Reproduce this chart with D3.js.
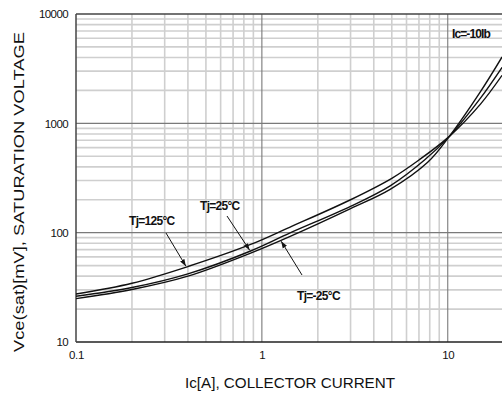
<!DOCTYPE html>
<html><head><meta charset="utf-8">
<script src="https://cdn.jsdelivr.net/npm/d3@7"></script>
<style>
html,body{margin:0;padding:0;background:#fff;}
svg{display:block;font-family:"Liberation Sans",Arial,sans-serif;}
</style></head>
<body>
<svg id="chart" width="502" height="399"></svg>
<script>
// ---- data ----
const xTicks = [0.1, 1, 10];
const xTickLabels = ["0.1", "1", "10"];
const yTicks = [10, 100, 1000, 10000];
const yTickLabels = ["10", "100", "1000", "10000"];

const ic125 = [0.1, 0.2, 0.4, 0.87, 1.41, 3, 5, 7, 10.2, 15, 19.6];
const v125  = [27.5, 34.5, 49, 78, 112, 200, 314, 462, 760, 1500, 2750];
const ic25  = [0.1, 0.2, 0.4, 0.87, 1.41, 3, 4.9, 7.5, 10.2, 15, 19.6];
const v25   = [26.2, 31.5, 42, 68, 99, 174, 268, 462, 760, 1700, 3250];
const icm25 = [0.1, 0.2, 0.4, 0.87, 1.41, 3, 4.9, 7.8, 10.2, 15, 19.6];
const vm25  = [24.9, 30.2, 40, 65, 92, 166, 249, 440, 760, 1950, 4050];

const seriesNames = ["Tj=125°C", "Tj=25°C", "Tj=-25°C"];
const conditionLabel = "Ic=-10Ib";
const xTitle = "Ic[A], COLLECTOR CURRENT";
const yTitle = "Vce(sat)[mV], SATURATION VOLTAGE";

// ---- layout ----
const L = 76, R = 503.7, T = 14, B = 342;
const svg = d3.select("#chart");
const x = d3.scaleLog().domain([0.1, 20]).range([L, R]);
const y = d3.scaleLog().domain([10, 10000]).range([B, T]);

// grid
const xGrid = [], yGrid = [];
[0.1, 1, 10].forEach(d => { for (let k = 1; k <= 9; k++) { const v = +(k * d).toPrecision(3); if (v <= 20) xGrid.push({v, major: k === 1}); } });
[10, 100, 1000].forEach(d => { for (let k = 1; k <= 9; k++) yGrid.push({v: k * d, major: k === 1}); });

const g = svg.append("g");
g.selectAll(".gx").data(xGrid.filter(d => !d.major)).enter().append("line")
  .attr("x1", d => x(d.v)).attr("x2", d => x(d.v)).attr("y1", T).attr("y2", B)
  .attr("stroke", "#cfcfcf").attr("stroke-width", 1.6);
g.selectAll(".gy").data(yGrid.filter(d => !d.major)).enter().append("line")
  .attr("x1", L).attr("x2", 502).attr("y1", d => y(d.v)).attr("y2", d => y(d.v))
  .attr("stroke", "#cfcfcf").attr("stroke-width", 1.6);
g.selectAll(".gxm").data(xGrid.filter(d => d.major && d.v > 0.1)).enter().append("line")
  .attr("x1", d => x(d.v)).attr("x2", d => x(d.v)).attr("y1", T).attr("y2", B)
  .attr("stroke", "#7a7a7a").attr("stroke-width", 1.1);
g.selectAll(".gym").data(yGrid.filter(d => d.major && d.v > 10)).enter().append("line")
  .attr("x1", L).attr("x2", 502).attr("y1", d => y(d.v)).attr("y2", d => y(d.v))
  .attr("stroke", "#7a7a7a").attr("stroke-width", 1.1);

// frame
svg.append("line").attr("x1", L).attr("x2", 502).attr("y1", T).attr("y2", T).attr("stroke", "#444").attr("stroke-width", 1.5);
svg.append("line").attr("x1", L).attr("x2", 502).attr("y1", B).attr("y2", B).attr("stroke", "#222").attr("stroke-width", 1.5);
svg.append("line").attr("x1", L).attr("x2", L).attr("y1", T).attr("y2", B).attr("stroke", "#444").attr("stroke-width", 1.5);

// axes (labels only)
const xAxis = d3.axisBottom(x).tickValues(xTicks).tickSize(0).tickFormat((d, i) => xTickLabels[i]);
const xa = svg.append("g").attr("transform", `translate(0,${B + 6})`).call(xAxis);
xa.select(".domain").remove();
xa.selectAll("text").attr("font-size", 11.5).attr("fill", "#111").attr("letter-spacing", "-0.4px")
  .attr("font-family", "Liberation Sans, Arial, sans-serif");

const yAxis = d3.axisLeft(y).tickValues(yTicks).tickSize(0).tickFormat((d, i) => yTickLabels[i]);
const ya = svg.append("g").attr("transform", `translate(${L - 5},0)`).call(yAxis);
ya.select(".domain").remove();
ya.selectAll("text").attr("font-size", 11.5).attr("fill", "#111").attr("letter-spacing", "-0.6px")
  .attr("font-family", "Liberation Sans, Arial, sans-serif");

// titles
svg.append("text").attr("x", 290).attr("y", 388).attr("text-anchor", "middle")
  .attr("font-size", 14).attr("fill", "#111").attr("textLength", 210).attr("lengthAdjust", "spacingAndGlyphs")
  .text(xTitle);
svg.append("text").attr("transform", "translate(24,192) rotate(-90)").attr("text-anchor", "middle")
  .attr("font-size", 15).attr("fill", "#111").attr("textLength", 320).attr("lengthAdjust", "spacingAndGlyphs")
  .text(yTitle);

// curves
svg.append("clipPath").attr("id", "clip").append("rect").attr("x", L).attr("y", T).attr("width", 502 - L).attr("height", B - T);
const line = d3.line().x(d => x(d[0])).y(d => y(d[1])).curve(d3.curveCatmullRom.alpha(0.5));
const series = [
  d3.zip(ic125, v125),
  d3.zip(ic25, v25),
  d3.zip(icm25, vm25)
];
svg.append("g").attr("clip-path", "url(#clip)").selectAll("path").data(series).enter().append("path")
  .attr("d", line).attr("fill", "none").attr("stroke", "#111").attr("stroke-width", 1.4);

// arrow marker
const defs = svg.append("defs");
defs.append("marker").attr("id", "ah").attr("viewBox", "0 0 10 10").attr("refX", 10).attr("refY", 5)
  .attr("markerWidth", 7).attr("markerHeight", 7).attr("markerUnits", "userSpaceOnUse").attr("orient", "auto")
  .append("path").attr("d", "M0,1.5 L10,5 L0,8.5 Z").attr("fill", "#111");

// value of a series at current ic (log-log interpolation between read points)
function valueAt(s, ic) {
  for (let i = 0; i < s.length - 1; i++) {
    if (ic >= s[i][0] && ic <= s[i + 1][0]) {
      const t = Math.log(ic / s[i][0]) / Math.log(s[i + 1][0] / s[i][0]);
      return Math.exp(Math.log(s[i][1]) + t * Math.log(s[i + 1][1] / s[i][1]));
    }
  }
  return s[s.length - 1][1];
}

function annot(text, tx, ty, fromX, fromY, s, ic, side) {
  svg.append("text").attr("x", tx).attr("y", ty).attr("font-size", 12).attr("font-weight", "bold")
    .attr("letter-spacing", "-0.7px").attr("fill", "#111").text(text);
  svg.append("line").attr("x1", fromX).attr("y1", fromY).attr("x2", x(ic)).attr("y2", y(valueAt(s, ic)) + side)
    .attr("stroke", "#111").attr("stroke-width", 1).attr("marker-end", "url(#ah)");
}
annot(seriesNames[0], 129, 225, 166, 233, series[0], 0.39, -1);
annot(seriesNames[1], 200, 210, 227, 216, series[1], 0.86, -1);
annot(seriesNames[2], 297, 300, 302, 275, series[2], 1.27, 1);

svg.append("text").attr("x", 452).attr("y", 38).attr("font-size", 12).attr("font-weight", "bold")
  .attr("letter-spacing", "-0.9px").attr("fill", "#111").text(conditionLabel);
</script>
</body></html>
